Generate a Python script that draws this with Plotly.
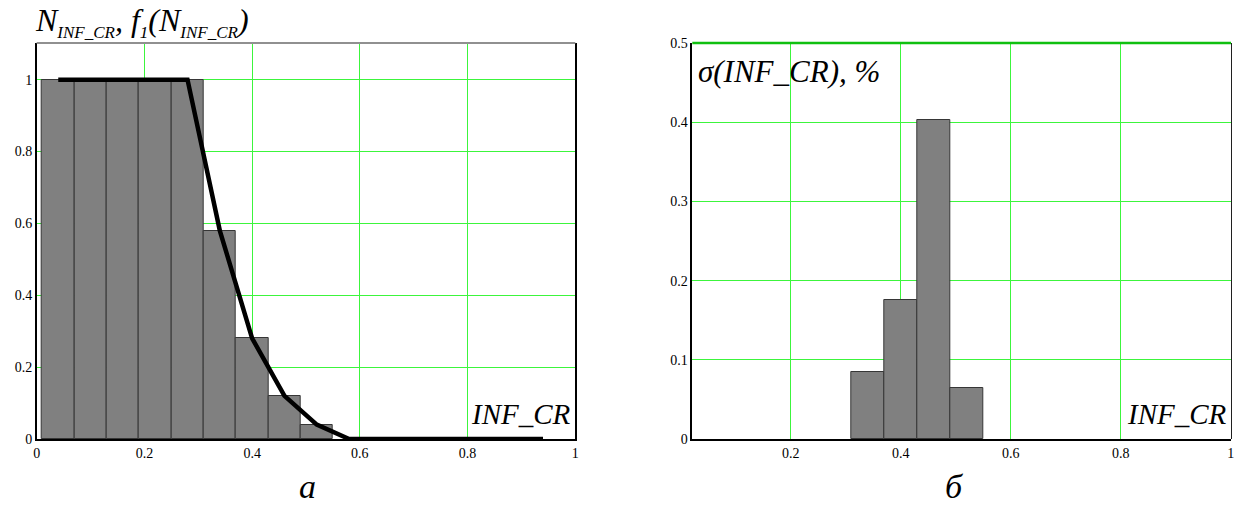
import plotly.graph_objects as go

# ---- data ----
left_bin_centers = [0.04, 0.10, 0.16, 0.22, 0.28, 0.34, 0.40, 0.46, 0.52]
left_bar_heights = [1.0, 1.0, 1.0, 1.0, 1.0, 0.58, 0.28, 0.12, 0.04]
line_x = [0.04, 0.10, 0.16, 0.22, 0.28, 0.34, 0.40, 0.46, 0.52, 0.58,
          0.64, 0.70, 0.76, 0.82, 0.88, 0.94]
line_y = [1.0, 1.0, 1.0, 1.0, 1.0, 0.58, 0.28, 0.12, 0.04, 0.0,
          0.0, 0.0, 0.0, 0.0, 0.0, 0.0]
right_bin_centers = [0.34, 0.40, 0.46, 0.52]
right_bar_heights = [0.085, 0.175, 0.403, 0.064]
bin_width = 0.06

W, H = 1236, 508
def px(x):
    return x / W
def py(y):
    return 1 - y / H

GRID = "#3cf53c"
BAR_FILL = "#808080"
BAR_EDGE = "#363636"
FONT = "Liberation Serif, Times New Roman, serif"

fig = go.Figure()
fig.add_trace(go.Bar(x=left_bin_centers, y=left_bar_heights, width=bin_width,
                     marker=dict(color=BAR_FILL, line=dict(color=BAR_EDGE, width=1)),
                     xaxis="x", yaxis="y", showlegend=False))
fig.add_trace(go.Scatter(x=line_x, y=line_y, mode="lines",
                         line=dict(color="black", width=4.5),
                         xaxis="x", yaxis="y", showlegend=False))
fig.add_trace(go.Bar(x=right_bin_centers, y=right_bar_heights, width=bin_width,
                     marker=dict(color=BAR_FILL, line=dict(color=BAR_EDGE, width=1)),
                     xaxis="x2", yaxis="y2", showlegend=False))

tickfont = dict(family=FONT, size=14, color="black")
common = dict(showgrid=True, gridcolor=GRID, gridwidth=1, zeroline=False,
              ticks="", tickfont=tickfont, fixedrange=True, automargin=False)

sub = '<sub><span style="font-size:17px">{}</span></sub>'
title_left = ("<i>N" + sub.format("INF_CR") + ", f" + sub.format("1") +
              "(N" + sub.format("INF_CR") + ")</i>")

yb, yt = py(439), py(43)
fig.update_layout(
    width=W, height=H,
    margin=dict(l=0, r=0, t=0, b=0),
    paper_bgcolor="white", plot_bgcolor="white",
    font=dict(family=FONT),
    bargap=0,
    xaxis=dict(domain=[px(36.7), px(575.3)], range=[0, 1], dtick=0.2, tick0=0,
               anchor="y", showline=True, linecolor="black", linewidth=1.5, **common),
    yaxis=dict(domain=[yb, yt], range=[0, 1.102], dtick=0.2, tick0=0,
               anchor="x", showline=True, linecolor="black", linewidth=1.5, mirror=True,
               **common),
    xaxis2=dict(domain=[px(692.3), px(1230.7)], range=[0.021, 1], dtick=0.2, tick0=0,
                anchor="y2", showline=True, linecolor="black", linewidth=1.5, **common),
    yaxis2=dict(domain=[yb, yt], range=[0, 0.5], dtick=0.1, tick0=0,
                anchor="x2", showline=True, linecolor="black", linewidth=1.5, **common),
    shapes=[
        dict(type="line", xref="paper", yref="paper", x0=px(36.7), x1=px(575.3),
             y0=yt, y1=yt, line=dict(color="#909090", width=2)),
        dict(type="line", xref="paper", yref="paper", x0=px(692.3), x1=px(1231),
             y0=yt, y1=yt, line=dict(color="#10c010", width=2.5)),
        dict(type="line", xref="paper", yref="paper", x0=px(1231.5), x1=px(1231.5),
             y0=yb, y1=yt, line=dict(color="#202020", width=1)),
    ],
    annotations=[
        dict(xref="paper", yref="paper", x=px(33), y=py(22), xanchor="left", yanchor="middle",
             text=title_left,
             showarrow=False, font=dict(family=FONT, size=32, color="black")),
        dict(xref="x", yref="paper", x=0.995, y=py(414), xanchor="right", yanchor="middle",
             text="<i>INF_CR</i>", showarrow=False,
             font=dict(family=FONT, size=29, color="black")),
        dict(xref="paper", yref="paper", x=px(696), y=py(72), xanchor="left", yanchor="middle",
             text="<i>σ(INF_CR), %</i>", showarrow=False,
             font=dict(family=FONT, size=31, color="black")),
        dict(xref="x2", yref="paper", x=0.996, y=py(414), xanchor="right", yanchor="middle",
             text="<i>INF_CR</i>", showarrow=False,
             font=dict(family=FONT, size=29, color="black")),
        dict(xref="paper", yref="paper", x=px(307), y=py(486), xanchor="center", yanchor="middle",
             text="<i>а</i>", showarrow=False,
             font=dict(family=FONT, size=34, color="black")),
        dict(xref="paper", yref="paper", x=px(955), y=py(486), xanchor="center", yanchor="middle",
             text="<i>б</i>", showarrow=False,
             font=dict(family=FONT, size=34, color="black")),
    ],
)

fig.write_html("out.html", config={"displayModeBar": False},
               post_script="document.body.style.margin='0';document.body.style.overflow='hidden';")
